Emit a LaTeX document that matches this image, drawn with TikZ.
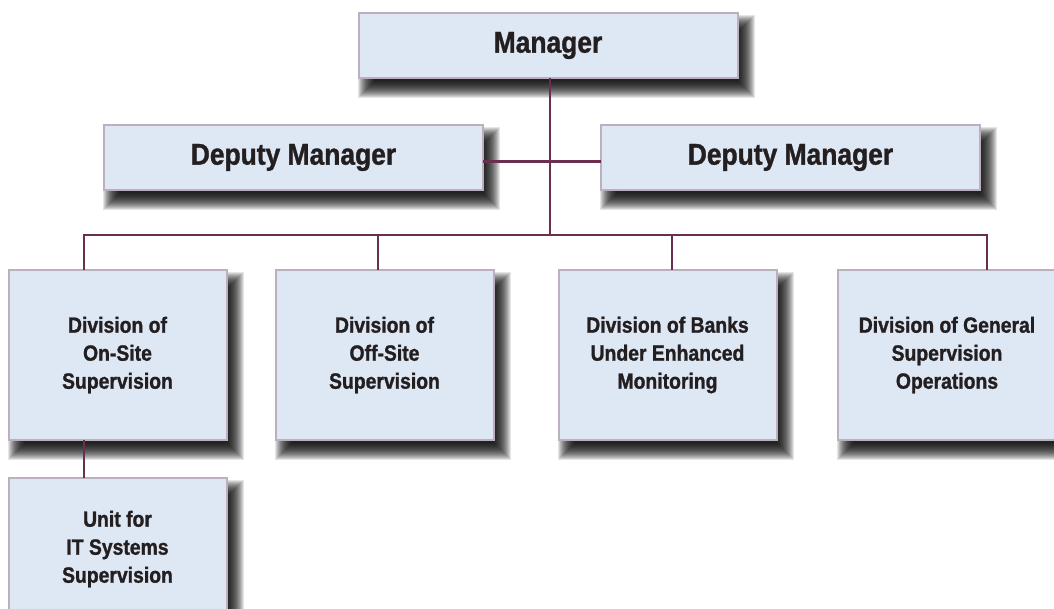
\documentclass[tikz,border=0pt]{standalone}
\usepackage{fontspec}
\setmainfont[FakeStretch=0.88, BoldFeatures={FakeBold=1.2}]{Liberation Sans}
\usetikzlibrary{backgrounds}
\definecolor{boxfill}{HTML}{DEE7F4}
\definecolor{boxline}{HTML}{BCB0BF}
\definecolor{conn}{HTML}{6A2F4E}
\definecolor{txt}{HTML}{231F20}
\tikzset{
  box/.style={draw=boxline, line width=2pt, fill=boxfill, inner sep=0pt, outer sep=0pt,
    text=txt, align=center},
  topbox/.style={box, minimum width=379pt, minimum height=65pt,
    font=\bfseries\fontsize{30}{34}\selectfont},
  childbox/.style={box, minimum width=218pt, minimum height=170pt,
    font=\bfseries\fontsize{22}{28}\selectfont},
  conline/.style={draw=conn, line width=2.4pt},
  shadowlayer/.style={fill=black, fill opacity=0.1, draw=none}
}
\begin{document}
\begin{tikzpicture}[x=1pt, y=-1pt]
\useasboundingbox (0,0) rectangle (1054,609);
\clip (0,0) rectangle (1054,609);

\coordinate (b1) at (84,235);
\coordinate (b2) at (378,235);
\coordinate (b3) at (672,235);
\coordinate (b4) at (987,235);
\coordinate (bm) at (550,235);

\node[topbox] (m) at (548,45.5) {Manager};
\node[topbox] (d1) at (293.5,157.5) {Deputy Manager};
\node[topbox] (d2) at (790.5,157.5) {Deputy Manager};

\node[childbox] (c1) at (117.5,355) {Division of\\On-Site\\Supervision};
\node[childbox] (c2) at (384.5,355) {Division of\\Off-Site\\Supervision};
\node[childbox] (c3) at (667.5,355) {Division of Banks\\Under Enhanced\\Monitoring};
\node[childbox] (c4) at (947,355) {Division of General\\Supervision\\Operations};

\node[childbox, minimum height=142pt] (u1) at (117.5,549) {Unit for\\IT Systems\\Supervision};

\begin{scope}[on background layer]
  \fill[white] (0,0) rectangle (1054,609);
  \foreach \n in {m,d1,d2,c1,c2,c3,c4,u1}{
    \foreach \e in {-8,-7,...,9}{
      \fill[shadowlayer] ([shift={(8-\e,11+\e)}]\n.south west) rectangle ([shift={(8+\e,11-\e)}]\n.north east);
    }
  }
\end{scope}

\draw[conline] (m.south -| bm) -- (bm);
\draw[conline] ([yshift=-4pt]d1.east) -- ([yshift=-4pt]d2.west);
\draw[conline, line cap=rect] (b1) -- (b4);
\draw[conline] (b1) -- (b1 |- c1.north);
\draw[conline] (b2) -- (b2 |- c2.north);
\draw[conline] (b3) -- (b3 |- c3.north);
\draw[conline] (b4) -- (b4 |- c4.north);
\draw[conline] (c1.south -| b1) -- (u1.north -| b1);
\end{tikzpicture}
\end{document}
